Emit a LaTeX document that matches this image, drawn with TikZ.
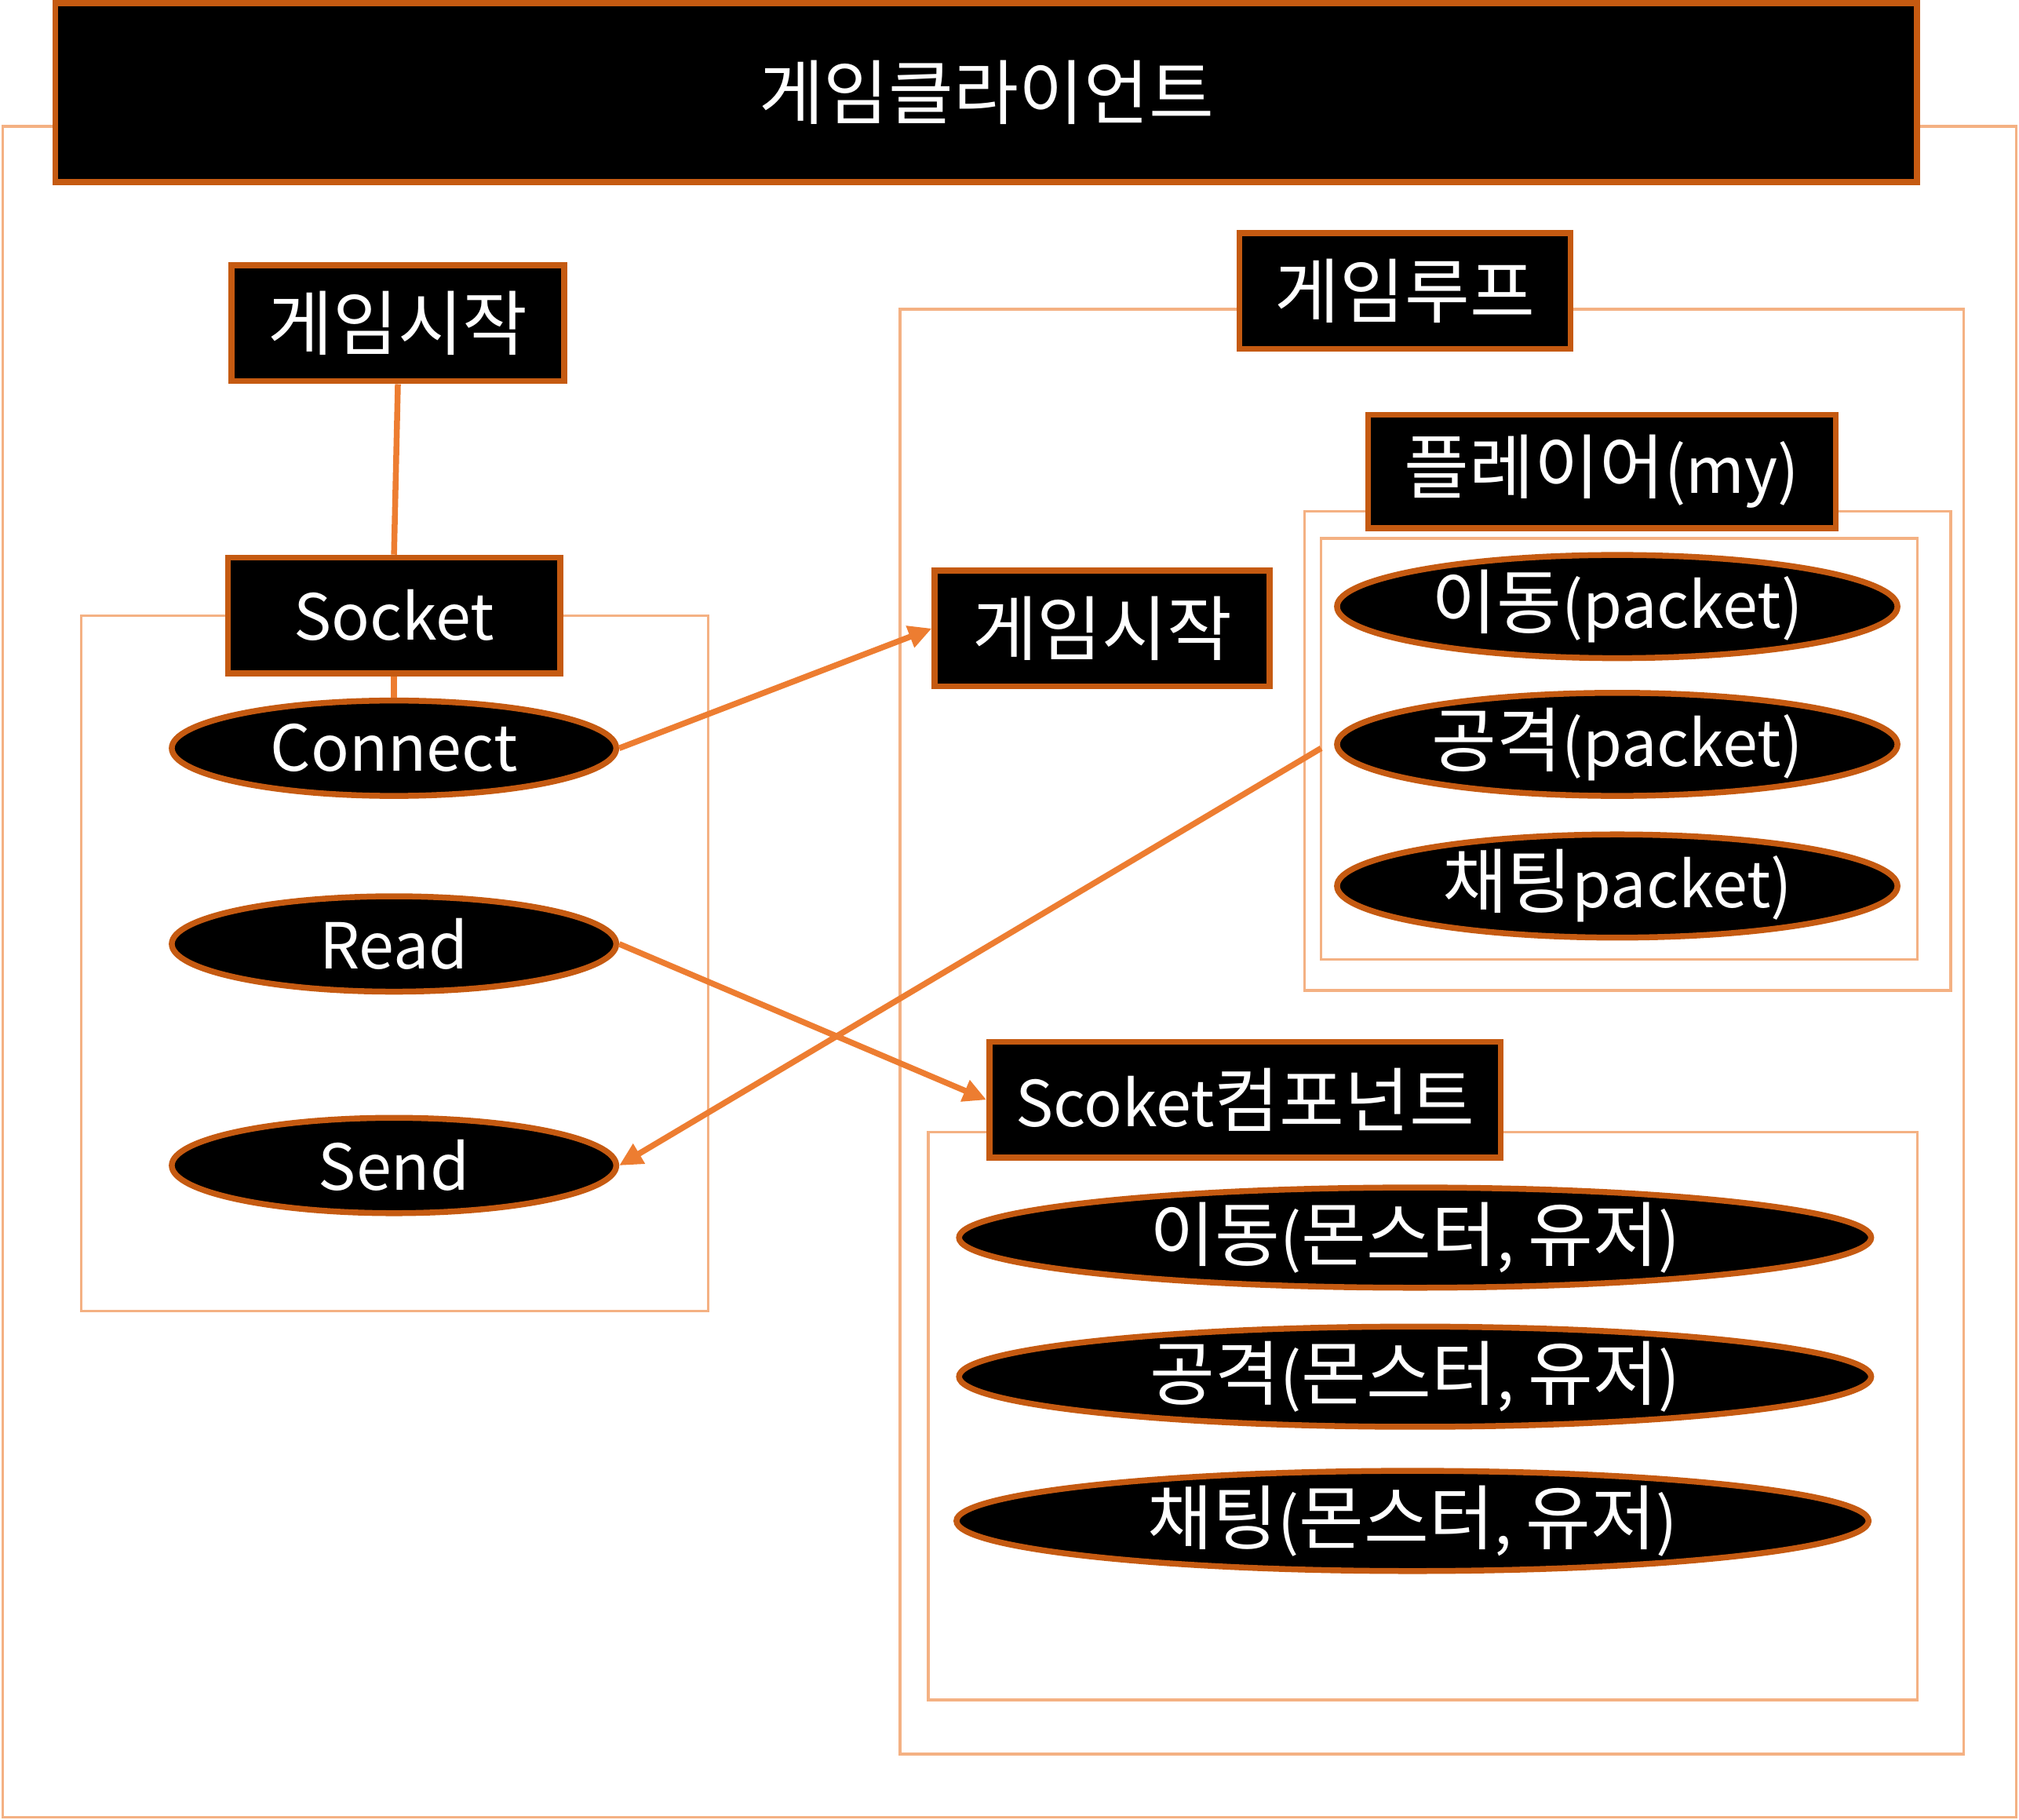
\documentclass[tikz,border=0pt]{standalone}
\usepackage{fontspec}
\setmainfont{Noto Sans CJK KR}
\usepackage{xcolor}
\usetikzlibrary{shapes.geometric}
\usetikzlibrary{arrows.meta}
\usetikzlibrary{positioning}

\definecolor{boxEdge}{RGB}{197,90,17}
\definecolor{linkLine}{RGB}{237,125,49}
\definecolor{frameLine}{RGB}{244,177,131}

\newcommand{\hg}[1]{{\fontsize{15.6}{17}\selectfont #1}}

\begin{document}
\begin{tikzpicture}[x=0.01cm,y=-0.01cm,
		tagBox/.style={draw=boxEdge,fill=black,line width=1.3pt,text=white,inner sep=0pt,
			font=\fontsize{14}{16}\selectfont},
		tagOval/.style={ellipse,draw=boxEdge,fill=black,line width=1.3pt,text=white,inner sep=0pt,
			minimum height=0.74cm,font=\fontsize{14}{16}\selectfont},
		frameBox/.style={draw=frameLine,line width=0.6pt},
		linkArrow/.style={draw=linkLine,line width=1.3pt,-{Triangle[length=0.18cm,width=0.17cm]}},
		linkLine/.style={draw=linkLine,line width=1.3pt}]
		\useasboundingbox (0,0) rectangle (1568,1413);
		
		% frames
		\draw[frameBox] (2,98) rectangle (1566,1411);		% client
		\draw[frameBox] (63,478) rectangle (550,1018);		% socket
		\draw[frameBox] (699,240) rectangle (1525,1362);	% game loop
		\draw[frameBox] (1013,397) rectangle (1515,769);	% player
		\draw[frameBox] (1026,418) rectangle (1489,745);
		\draw[frameBox] (721,879) rectangle (1489,1320);	% component
		
		% title
		\node[tagBox,minimum width=14.45cm,minimum height=1.39cm] (client) at (766,72) {\hg{게임클라이언트}};
		
		% left side
		\node[tagBox,minimum width=2.58cm,minimum height=0.9cm] (start1) at (309,251) {\hg{게임시작}};
		\node[tagBox,minimum width=2.58cm,minimum height=0.9cm] (socket) at (306,478) {Socket};
		\node[tagOval,minimum width=3.45cm] (connect) at (306,581) {Connect};
		\node[tagOval,minimum width=3.45cm] (read) at (306,733) {Read};
		\node[tagOval,minimum width=3.45cm] (send) at (306,905) {Send};
		
		% right side
		\node[tagBox,minimum width=2.57cm,minimum height=0.9cm] (loop) at (1091,226) {\hg{게임루프}};
		\node[tagBox,minimum width=2.6cm,minimum height=0.9cm] (start2) at (856,488) {\hg{게임시작}};
		\node[tagBox,minimum width=3.63cm,minimum height=0.88cm] (player) at (1244,366) {\hg{플레이어}(my)};
		\node[tagOval,minimum width=4.35cm] (move1) at (1256,471) {\hg{이동}(packet)};
		\node[tagOval,minimum width=4.35cm] (attack1) at (1256,578) {\hg{공격}(packet)};
		\node[tagOval,minimum width=4.35cm] (chat1) at (1256,688) {\hg{채팅}packet)};
		
		\node[tagBox,minimum width=3.97cm,minimum height=0.9cm] (comp) at (967,854) {Scoket\hg{컴포넌트}};
		\node[tagOval,minimum width=7.08cm] (move2) at (1099,961) {\hg{이동}(\hg{몬스터}, \hg{유저})};
		\node[tagOval,minimum width=7.08cm] (attack2) at (1099,1069) {\hg{공격}(\hg{몬스터}, \hg{유저})};
		\node[tagOval,minimum width=7.08cm] (chat2) at (1097,1181) {\hg{채팅}(\hg{몬스터}, \hg{유저})};
		
		% links
		\coordinate (attackIn) at (1026,581);
		\draw[linkLine] (start1.south) -- (socket.north);
		\draw[linkLine] (socket.south) -- (connect.north);
		\draw[linkArrow] (connect.east) -- (start2.west);
		\draw[linkArrow] (read.east) -- (comp.west);
		\draw[linkArrow] (attackIn) -- (send.east);
\end{tikzpicture}
\end{document}
